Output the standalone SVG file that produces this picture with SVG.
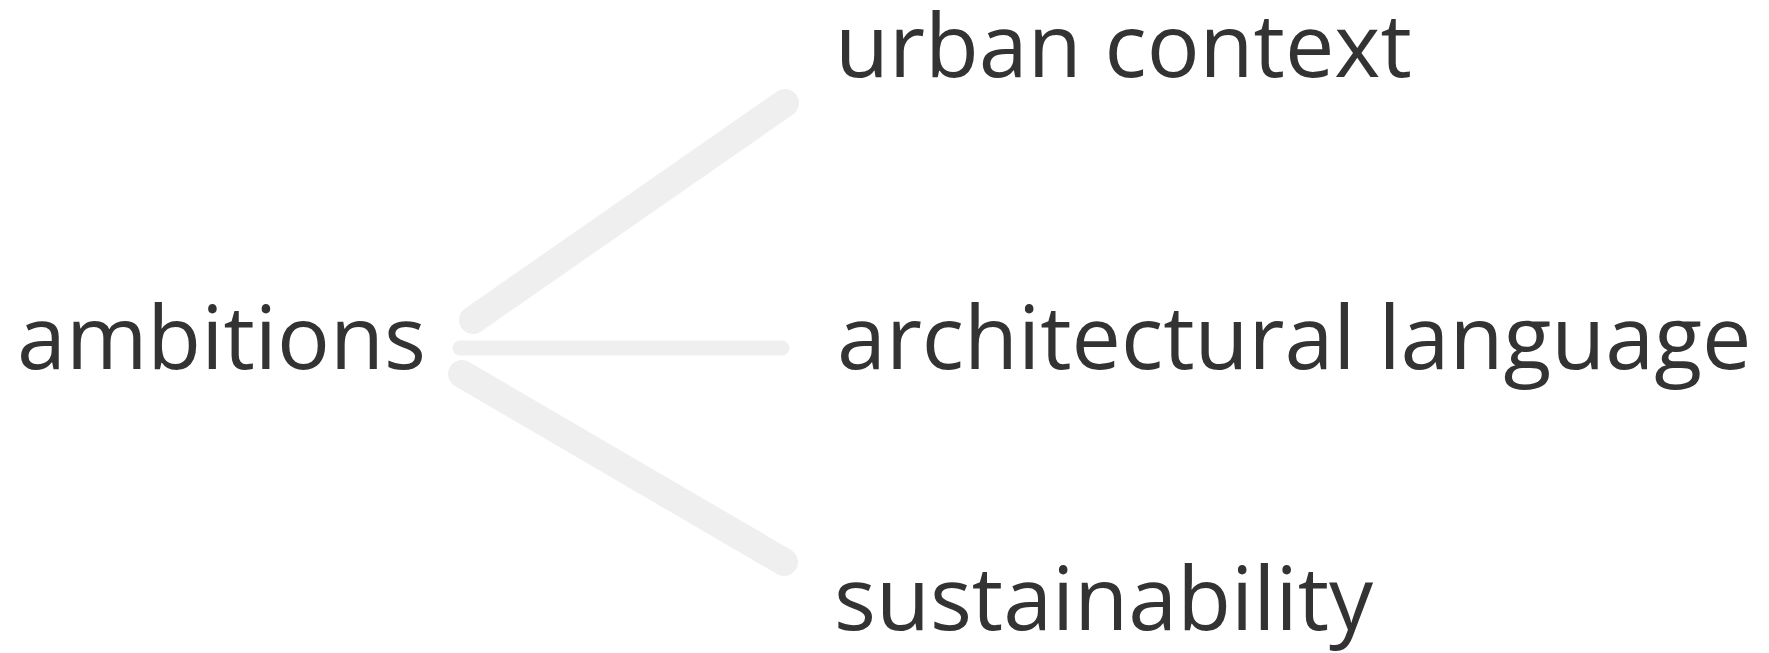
<svg xmlns="http://www.w3.org/2000/svg" width="1769" height="653" viewBox="0 0 1769 653">
<style>
.lbl{font-family:"Open Sans","Noto Sans","Liberation Sans",sans-serif;font-size:88px;fill:#333333}
.con{stroke:#efefef;stroke-linecap:round;fill:none}
</style>
<rect width="1769" height="653" fill="#ffffff"/>
<g id="connectors">
<line class="con" x1="473" y1="320" x2="785" y2="103" stroke-width="28"/>
<line class="con" x1="460" y1="348" x2="782" y2="348" stroke-width="15"/>
<line class="con" x1="462" y1="374" x2="784" y2="562" stroke-width="28"/>
</g>
<g id="node-ambitions"><text class="lbl" x="17" y="369">ambitions</text></g>
<g id="node-urban-context"><text class="lbl" x="835" y="77">urban context</text></g>
<g id="node-architectural-language"><text class="lbl" x="837" y="369">architectural language</text></g>
<g id="node-sustainability"><text class="lbl" x="834" y="630">sustainability</text></g>
</svg>
